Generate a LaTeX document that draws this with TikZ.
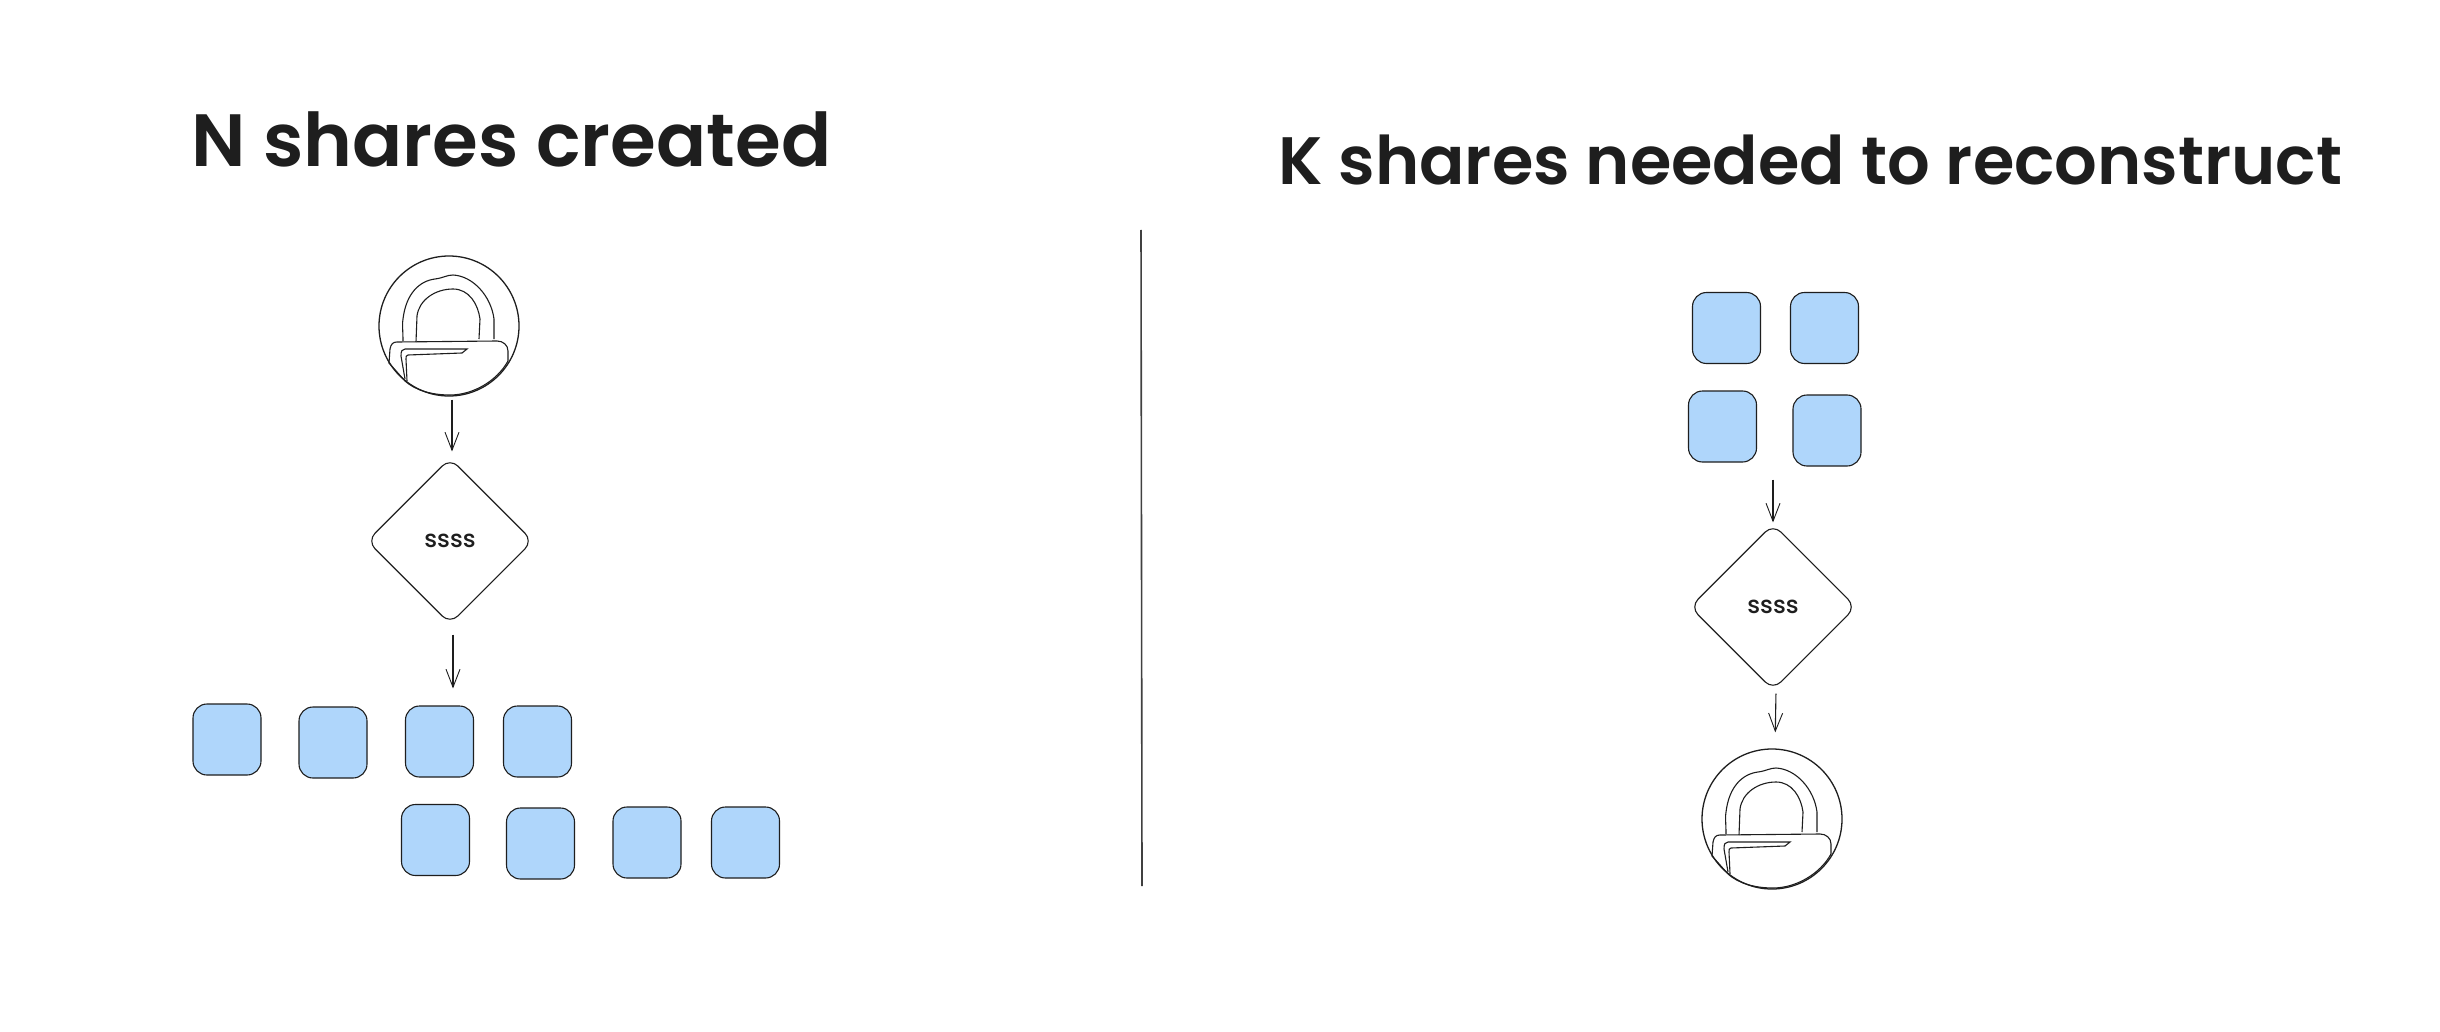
\documentclass[tikz,border=0pt]{standalone}
\usepackage{fontspec}
\usetikzlibrary{arrows.meta,shapes.geometric}
\newfontfamily\titlefont{Poppins SemiBold}
\newfontfamily\labelfont{Poppins Medium}
\definecolor{ink}{HTML}{1E1E1E}
\definecolor{sharefill}{HTML}{AFD6FB}
\newcommand{\lockicon}[1]{%
  \begin{scope}[shift={(#1.center)},line width=1.1pt,draw=ink]
    \draw (-46,15) .. controls (-46,5) and (-47,-3) .. (-46,-7)
          .. controls (-43,-32) and (-30,-45) .. (-14,-47)
          .. controls (-6,-48) and (-2,-51) .. (4,-51)
          .. controls (24,-50) and (42,-30) .. (45,-7) -- (45,13);
    \draw (-33,16) -- (-32,-10)
          .. controls (-30,-26) and (-14,-37) .. (4,-37)
          .. controls (20,-37) and (29,-22) .. (31,-7) -- (30,13);
    \draw (-60,37) -- (-59,23)
          .. controls (-58,18) and (-56,16) .. (-52,16)
          -- (48,15)
          .. controls (54,15) and (59,19) .. (59,25)
          -- (59,35)
          .. controls (48,55) and (24,69) .. (1,69)
          .. controls (-18,69) and (-34,64) .. (-44,55)
          -- cycle;
    \draw (-44,53) -- (-48,30)
          .. controls (-48,25) and (-47,23) .. (-44,23)
          -- (18,23) -- (13,27) -- (-41,29)
          .. controls (-43,29) and (-43,31) .. (-43,33)
          -- (-42,55);
  \end{scope}%
}
\tikzset{
  title/.style={inner sep=0pt,text=ink,anchor=base west},
  share/.style={draw=ink,line width=1.1pt,fill=sharefill,rounded corners=14pt,
    minimum width=68pt,minimum height=71pt,inner sep=0pt},
  lockring/.style={draw=ink,line width=1.3pt,circle,minimum size=140pt,inner sep=0pt},
  ssssbox/.style={draw=ink,line width=1.1pt,diamond,aspect=1,minimum width=166pt,
    minimum height=166pt,inner sep=0pt,rounded corners=11pt,
    font=\labelfont\fontsize{24}{24}\selectfont,text=ink},
  arr/.style={draw=ink,line width=1.1pt,-{Straight Barb[length=18pt,width=14pt,line width=0.9pt]}},
  divider/.style={draw=ink!85,line width=1.6pt}
}
\begin{document}
\begin{tikzpicture}[x=1pt,y=-1pt]
\useasboundingbox[fill=white] (0,0) rectangle (2440,1032);

\node[title] (titleA) at (191,167) {\resizebox{640pt}{!}{\titlefont\fontsize{65}{65}\selectfont N shares created}};
\node[title] (titleB) at (1278,185) {\resizebox{1064pt}{!}{\titlefont\fontsize{62}{62}\selectfont K shares needed to reconstruct}};

% left column
\node[lockring] (lockA) at (449,326) {};
\lockicon{lockA}
\node[ssssbox] (ssssA) at (450,541) {ssss};
\node[share] (s1) at (227,739.5) {};
\node[share] (s2) at (333,742.5) {};
\node[share] (s3) at (439.5,741.5) {};
\node[share] (s4) at (537.5,741.5) {};
\node[share] (s5) at (435.5,840) {};
\node[share] (s6) at (540.5,843.5) {};
\node[share] (s7) at (647,842.5) {};
\node[share] (s8) at (745.5,842.5) {};

\draw[arr,shorten <=3pt,shorten >=6pt] ([xshift=3pt]lockA.south) -- ([xshift=2pt]ssssA.north);
\draw[arr,shorten <=10pt,shorten >=17pt] ([xshift=3pt]ssssA.south) -- ([xshift=3pt]ssssA.south |- s3.north);

% divider
\coordinate (divtop) at (1141,230);
\coordinate (divbot) at (1142,886);
\draw[divider] (divtop) -- (divbot);

% right column
\node[share] (k1) at (1726.5,328) {};
\node[share] (k2) at (1824.5,328) {};
\node[share] (k3) at (1722.5,426.5) {};
\node[share] (k4) at (1827,430.5) {};
\node[ssssbox] (ssssB) at (1773,607) {ssss};
\node[lockring] (lockB) at (1772,819) {};
\lockicon{lockB}

\draw[arr,shorten <=13pt,shorten >=1pt] (ssssB.north |- k4.south) -- (ssssB.north);
\draw[arr,shorten <=3pt,shorten >=16pt] ([xshift=3pt]ssssB.south) -- ([xshift=3pt]lockB.north);
\end{tikzpicture}
\end{document}
